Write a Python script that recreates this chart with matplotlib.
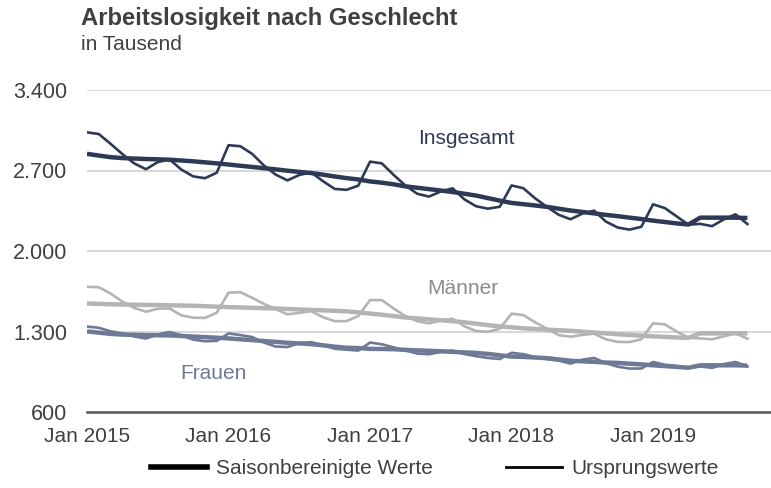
import numpy as np
import matplotlib
matplotlib.use("Agg")
import matplotlib.pyplot as plt
from matplotlib.lines import Line2D
from matplotlib.ticker import FuncFormatter

plt.rcParams['font.family'] = ['Liberation Sans', 'DejaVu Sans']

# Monatswerte Jan 2015 - Sep 2019, in Tausend
monate = np.arange(57)
tick_pos = [0, 12, 24, 36, 48]
tick_labels = ['Jan 2015', 'Jan 2016', 'Jan 2017', 'Jan 2018', 'Jan 2019']

gesamt_roh = [3032, 3017, 2932, 2843, 2762, 2711, 2773, 2796, 2708, 2649, 2633, 2681,
              2920, 2911, 2845, 2744, 2664, 2614, 2661, 2684, 2608, 2540, 2532, 2568,
              2777, 2762, 2662, 2569, 2498, 2473, 2518, 2545, 2449, 2389, 2368, 2385,
              2570, 2546, 2458, 2384, 2315, 2276, 2325, 2351, 2256, 2204, 2186, 2210,
              2406, 2373, 2301, 2229, 2236, 2216, 2275, 2319, 2234]
gesamt_sb = [2845, 2830, 2816, 2808, 2804, 2800, 2797, 2794, 2787, 2780, 2771, 2762,
             2752, 2741, 2731, 2720, 2710, 2698, 2688, 2678, 2664, 2648, 2634, 2622,
             2605, 2594, 2580, 2562, 2550, 2538, 2526, 2513, 2498, 2482, 2460, 2438,
             2418, 2407, 2396, 2384, 2368, 2352, 2340, 2327, 2314, 2303, 2290, 2278,
             2264, 2252, 2240, 2230, 2290, 2290, 2290, 2290, 2287]
maenner_roh = [1689, 1685, 1630, 1560, 1505, 1472, 1498, 1500, 1440, 1420, 1418, 1463,
               1637, 1642, 1593, 1540, 1495, 1449, 1462, 1477, 1425, 1390, 1390, 1434,
               1573, 1573, 1500, 1434, 1390, 1371, 1395, 1411, 1345, 1304, 1298, 1324,
               1455, 1443, 1380, 1324, 1268, 1255, 1270, 1281, 1232, 1210, 1208, 1232,
               1371, 1362, 1300, 1246, 1240, 1232, 1258, 1284, 1238]
maenner_sb = [1544, 1540, 1537, 1535, 1533, 1531, 1530, 1528, 1526, 1524, 1520, 1516,
              1512, 1509, 1506, 1503, 1500, 1496, 1492, 1488, 1484, 1480, 1475, 1466,
              1456, 1446, 1434, 1422, 1414, 1406, 1398, 1390, 1380, 1368, 1355, 1345,
              1336, 1328, 1322, 1316, 1311, 1306, 1299, 1291, 1284, 1276, 1270, 1264,
              1258, 1253, 1248, 1245, 1284, 1284, 1284, 1284, 1284]
frauen_roh = [1343, 1332, 1302, 1283, 1257, 1239, 1275, 1296, 1268, 1229, 1215, 1218,
              1283, 1269, 1252, 1204, 1169, 1165, 1199, 1207, 1183, 1150, 1142, 1134,
              1204, 1189, 1162, 1135, 1108, 1102, 1123, 1134, 1104, 1085, 1070, 1061,
              1115, 1103, 1078, 1060, 1047, 1021, 1055, 1070, 1024, 994, 978, 978,
              1035, 1011, 1001, 983, 996, 984, 1017, 1035, 996]
frauen_sb = [1301, 1290, 1279, 1273, 1271, 1269, 1267, 1266, 1261, 1256, 1251, 1246,
             1240, 1232, 1225, 1217, 1210, 1202, 1196, 1190, 1180, 1168, 1159, 1156,
             1149, 1148, 1146, 1140, 1136, 1132, 1128, 1123, 1118, 1114, 1105, 1093,
             1082, 1079, 1074, 1068, 1057, 1046, 1041, 1036, 1030, 1027, 1020, 1014,
             1006, 999, 992, 985, 1006, 1006, 1006, 1006, 1003]

farbe_gesamt = '#2E3A55'
farbe_maenner = '#B4B4B4'
farbe_frauen = '#6E7A95'

fig = plt.figure(figsize=(7.71, 4.88), dpi=100)
ax = fig.add_axes([87 / 771, 1 - 412 / 488, 1 - 87 / 771, (412 - 90) / 488])

for roh, sb, farbe in [(maenner_roh, maenner_sb, farbe_maenner),
                       (frauen_roh, frauen_sb, farbe_frauen),
                       (gesamt_roh, gesamt_sb, farbe_gesamt)]:
    ax.plot(monate, sb, color=farbe, lw=3.2, solid_capstyle='butt', zorder=3)
    ax.plot(monate, roh, color=farbe, lw=1.9, zorder=3)

ax.set_xlim(0, 58)
ax.set_ylim(600, 3400)
ax.set_yticks([600, 1300, 2000, 2700, 3400])
ax.yaxis.set_major_formatter(FuncFormatter(lambda v, p: f'{int(v):,}'.replace(',', '.')))
ax.set_xticks(tick_pos)
ax.set_xticklabels(tick_labels)
ax.tick_params(length=0, labelsize=15, colors='#404040')
ax.tick_params(axis='y', pad=14, labelsize=15.5)
ax.tick_params(axis='x', pad=11)

ax.grid(axis='y', color='#D9D9D9', lw=1.5)
ax.set_axisbelow(True)
for s in ['top', 'right', 'left']:
    ax.spines[s].set_visible(False)
ax.spines['bottom'].set_color('#595959')
ax.spines['bottom'].set_linewidth(1.8)

ax.text(32.2, 2975, 'Insgesamt', color=farbe_gesamt, fontsize=15, ha='center', va='center')
ax.text(31.9, 1674, 'Männer', color='#8C8C8C', fontsize=15, ha='center', va='center')
ax.text(10.7, 937, 'Frauen', color=farbe_frauen, fontsize=15, ha='center', va='center')

fig.text(81 / 771, 1 - 18 / 488, 'Arbeitslosigkeit nach Geschlecht', fontsize=17.2,
         fontweight='bold', color='#404040', ha='left', va='center')
fig.text(81 / 771, 1 - 45 / 488, 'in Tausend', fontsize=15, color='#404040',
         ha='left', va='center')

handles = [Line2D([], [], color='black', lw=4),
           Line2D([], [], color='black', lw=2)]
fig.legend(handles, ['Saisonbereinigte Werte', 'Ursprungswerte'], loc='center',
           bbox_to_anchor=(435 / 771, 1 - 469 / 488), ncol=2, frameon=False,
           fontsize=15, handlelength=2.7, handletextpad=0.45, columnspacing=3.5,
           labelcolor='#404040')

fig.savefig('out.png', dpi=100)
